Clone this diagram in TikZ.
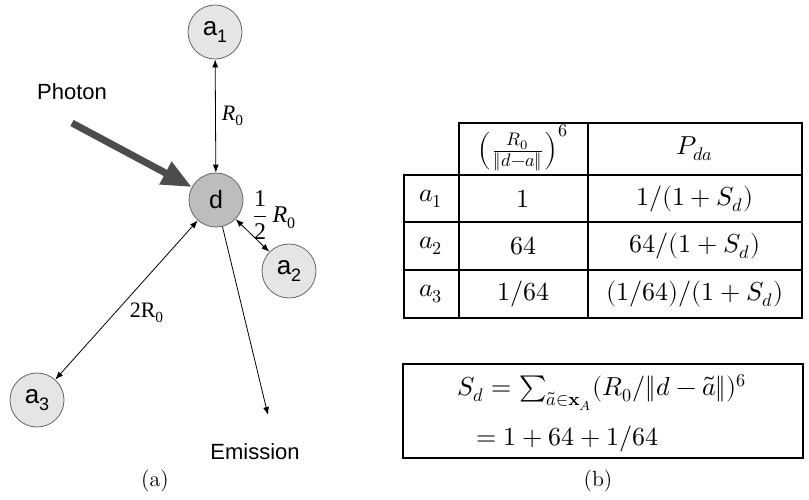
\documentclass[tikz,border=0pt]{standalone}
\usepackage{amsmath,amssymb}
\usepackage{fontspec}
\usepackage{unicode-math}
\setmathfont{Latin Modern Math}
\newfontfamily\figsans{Liberation Sans}
\newfontfamily\figserif{Liberation Serif}
\usepackage{tikz}
\usetikzlibrary{arrows.meta,positioning,calc}

\newcommand{\lowidx}[1]{\raisebox{-0.55ex}{\fontsize{9}{9}\selectfont #1}}

\begin{document}
\begin{tikzpicture}[x=0.5pt, y=-0.5pt,
        acceptor/.style={circle, draw=black!60, fill=black!10, minimum size=27pt, inner sep=0pt, font=\figsans\fontsize{13}{13}\selectfont},
        donor/.style={acceptor, fill=black!26, font=\figsans\fontsize{12.5}{13}\selectfont},
        link/.style={{Latex[length=4pt,width=3pt]}-{Latex[length=4pt,width=3pt]}, line width=0.4pt},
        emit/.style={-{Latex[length=4pt,width=3pt]}, line width=0.4pt},
        photon/.style={-{Triangle[length=15pt,width=12pt]}, line width=3.5pt, draw=black!70},
        word/.style={font=\figsans\fontsize{11}{13}\selectfont},
        dist/.style={font=\figserif\fontsize{11}{13}\selectfont, inner sep=1pt},
        grid/.style={line width=1pt},
        cell/.style={font=\fontsize{13}{15}\selectfont, inner sep=1pt},
        caption/.style={font=\fontsize{11}{13}\selectfont}]

        \useasboundingbox (0,0) rectangle (809,499);

        % Molecules
        \node[acceptor] (a1) at (215,32) {a\lowidx{1}};
        \node[donor] (d) at (216,200) {d};
        \node[acceptor] (a2) at (289,271) {a\lowidx{2}};
        \node[acceptor] (a3) at (37,400) {a\lowidx{3}};

        % Photon in, emission out
        \node[word] (photon) at (72,92) {Photon};
        \coordinate (photonstart) at (72,123);
        \node[word] (emission) at (255,452) {Emission};
        \coordinate (emitend) at (268,415);

        % Connections
        \draw[photon] (photonstart) -- (d);
        \draw[link] (a1) -- node[dist, right=2pt] {{\itshape R}\textsubscript{0}} (d);
        \draw[link] (d) -- (a2);
        \draw[link] (d) -- (a3);
        \draw[emit] (d) -- (emitend);

        % Distance labels
        \node[dist, font=\figserif\fontsize{12}{14}\selectfont] (halfR) at (274,215) {$\dfrac{\text{1}}{\text{2}}$\,{\itshape R}\textsubscript{0}};
        \node[dist] (twoR) at (147,313) {2R\textsubscript{0}};

        \node[caption] (capa) at (155,481) {(a)};

        % Table grid
        \draw[grid] (459,123) rectangle (802,175);
        \draw[grid] (404,175) rectangle (802,318);
        \draw[grid] (404,222) -- (802,222);
        \draw[grid] (404,270) -- (802,270);
        \draw[grid] (459,175) -- (459,318);
        \draw[grid] (588,123) -- (588,318);

        % Table header
        \node[cell] (hratio) at (523,148) {$\left(\frac{R_0}{\|d-a\|}\right)^{6}$};
        \node[cell] (hprob) at (695,149) {$P_{da}$};

        % Table rows
        \node[cell] (r1) at (431,199) {$a_1$};
        \node[cell] (r1ratio) at (523,199) {$1$};
        \node[cell] (r1prob) at (695,199) {$1/(1+S_d)$};
        \node[cell] (r2) at (431,246) {$a_2$};
        \node[cell] (r2ratio) at (523,246) {$64$};
        \node[cell] (r2prob) at (695,246) {$64/(1+S_d)$};
        \node[cell] (r3) at (431,294) {$a_3$};
        \node[cell] (r3ratio) at (523,294) {$1/64$};
        \node[cell] (r3prob) at (695,294) {$(1/64)/(1+S_d)$};

        % Sum box
        \draw[grid] (403,364) rectangle (803,458);
        \node[cell] (sumdef) at (602,392) {$S_d=\sum_{\tilde{a}\in\mathbf{x}_A}(R_0/\|d-\tilde{a}\|)^6$};
        \node[cell, anchor=west] (sumval) at (474,439) {$=1+64+1/64$};

        \node[caption] (capb) at (598,481) {(b)};
    \end{tikzpicture}
\end{document}
